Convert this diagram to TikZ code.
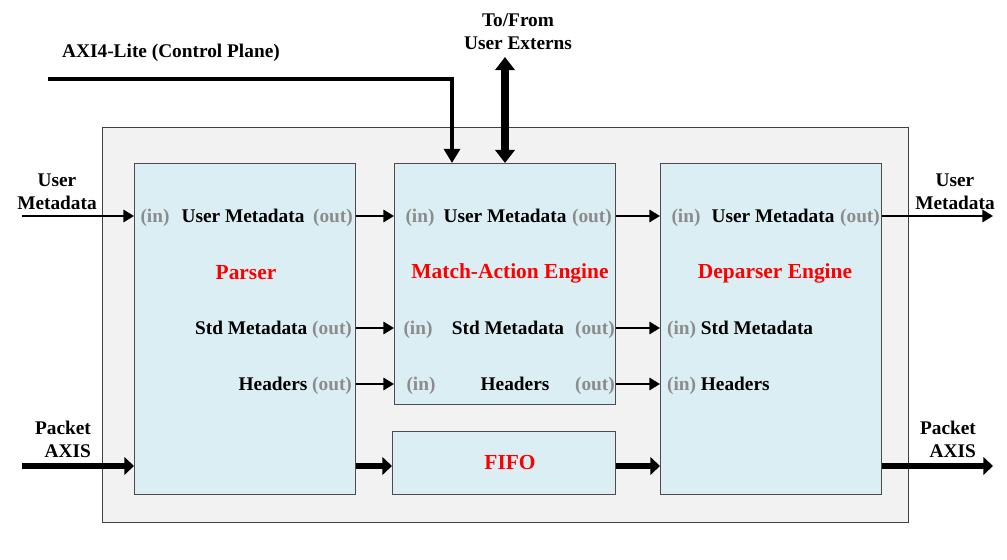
\documentclass[tikz,border=0pt]{standalone}
\usepackage{fontspec}
\setmainfont{Liberation Serif}
\usetikzlibrary{arrows.meta,positioning}

\definecolor{blockfill}{HTML}{DAEEF3}
\definecolor{framefill}{HTML}{F2F2F2}
\definecolor{portgray}{HTML}{8C8C8C}

\tikzset{
  block/.style={rectangle, draw=black!70, fill=blockfill, anchor=north west, inner sep=0pt},
  rowtext/.style={inner sep=1pt, text height=8pt, text depth=1pt},
  port/.style={rowtext, text=portgray},
  title/.style={text=red, font=\fontsize{12.2}{14}\selectfont\bfseries},
  sig/.style={-{Triangle[length=6pt,width=7pt]}, line width=1.1pt},
  bus/.style={-{Triangle[length=5.5pt,width=10pt]}, line width=3.4pt},
}

\begin{document}
\begin{tikzpicture}[x=0.02cm, y=-0.02cm, font=\fontsize{11}{13}\selectfont\bfseries]
    \useasboundingbox (0,0) rectangle (1007,560);

    % Outer frame and blocks
    \node[block, draw=black!75, fill=framefill, line width=0.8pt, minimum width=16.12cm, minimum height=7.9cm] (frame) at (102,127) {};
    \node[block, minimum width=4.42cm, minimum height=6.62cm] (parser) at (134,163) {};
    \node[block, minimum width=4.42cm, minimum height=4.82cm] (mae) at (394,163) {};
    \node[block, minimum width=4.46cm, minimum height=1.26cm] (fifo) at (392,431) {};
    \node[block, minimum width=4.42cm, minimum height=6.62cm] (deparser) at (660,163) {};

    % Rows and free ends
    \coordinate (rowum) at (0,216);
    \coordinate (rowstd) at (0,328);
    \coordinate (rowhdr) at (0,384);
    \coordinate (rowpkt) at (0,466);
    \coordinate (umin) at (22,216);
    \coordinate (pktin) at (22,466);
    \coordinate (umout) at (993,216);
    \coordinate (pktout) at (993,466);
    \coordinate (axistart) at (48,79);
    \coordinate (axidrop) at (452,0);
    \coordinate (ext) at (505,57);

    % Parser
    \node[port] (pumin) at (155,216) {(in)};
    \node[rowtext] (pum) at (243,216) {User Metadata};
    \node[port] (pumout) at (333,216) {(out)};
    \node[title] (ptitle) at (246,273) {Parser};
    \node[rowtext, anchor=east] (pstd) at (354,328) {Std Metadata \textcolor{portgray}{(out)}};
    \node[rowtext, anchor=east] (phdr) at (354,384) {Headers \textcolor{portgray}{(out)}};

    % Match-action engine
    \node[port] (mumin) at (420,216) {(in)};
    \node[rowtext] (mum) at (505,216) {User Metadata};
    \node[port] (mumout) at (592,216) {(out)};
    \node[title] (mtitle) at (510,273) {Match-Action Engine};
    \node[port] (mstdin) at (418,328) {(in)};
    \node[rowtext] (mstd) at (508,328) {Std Metadata};
    \node[port] (mstdout) at (595,328) {(out)};
    \node[port] (mhdrin) at (421,384) {(in)};
    \node[rowtext] (mhdr) at (515,384) {Headers};
    \node[port] (mhdrout) at (595,384) {(out)};

    % FIFO
    \node[title] (ftitle) at (510,463) {FIFO};

    % Deparser
    \node[port] (dumin) at (686,216) {(in)};
    \node[rowtext] (dum) at (773,216) {User Metadata};
    \node[port] (dumout) at (860,216) {(out)};
    \node[title] (dtitle) at (775,273) {Deparser Engine};
    \node[rowtext, anchor=west] (dstd) at (665,328) {\textcolor{portgray}{(in)} Std Metadata};
    \node[rowtext, anchor=west] (dhdr) at (665,384) {\textcolor{portgray}{(in)} Headers};

    % Outside labels
    \node[align=center] (axilbl) at (171,53) {AXI4-Lite (Control Plane)};
    \node[align=center] (extlbl) at (518,32) {To/From\\User Externs};
    \node[align=center] (uminlbl) at (57,192) {User\\Metadata};
    \node[align=center] (umoutlbl) at (955,192) {User\\Metadata};
    \node[align=right] (pktinlbl) at (63,439) {Packet\\AXIS};
    \node[align=right] (pktoutlbl) at (948,439) {Packet\\AXIS};

    % Control plane and externs
    \draw[line width=2.8pt, -{Triangle[length=8pt,width=9pt]}] (axistart) -| (axidrop |- mae.north);
    \draw[line width=4.5pt, {Triangle[length=7.5pt,width=11pt]}-{Triangle[length=7.5pt,width=11pt]}] (ext) -- (ext |- mae.north);

    % Metadata and header signals
    \draw[sig] (umin) -- (parser.west |- rowum);
    \draw[sig] (parser.east |- rowum) -- (mae.west |- rowum);
    \draw[sig] (parser.east |- rowstd) -- (mae.west |- rowstd);
    \draw[sig] (parser.east |- rowhdr) -- (mae.west |- rowhdr);
    \draw[sig] (mae.east |- rowum) -- (deparser.west |- rowum);
    \draw[sig] (mae.east |- rowstd) -- (deparser.west |- rowstd);
    \draw[sig] (mae.east |- rowhdr) -- (deparser.west |- rowhdr);
    \draw[sig] (deparser.east |- rowum) -- (umout);

    % Packet path
    \draw[bus] (pktin) -- (parser.west |- rowpkt);
    \draw[bus] (parser.east |- rowpkt) -- (fifo.west |- rowpkt);
    \draw[bus] (fifo.east |- rowpkt) -- (deparser.west |- rowpkt);
    \draw[bus] (deparser.east |- rowpkt) -- (pktout);
\end{tikzpicture}
\end{document}
